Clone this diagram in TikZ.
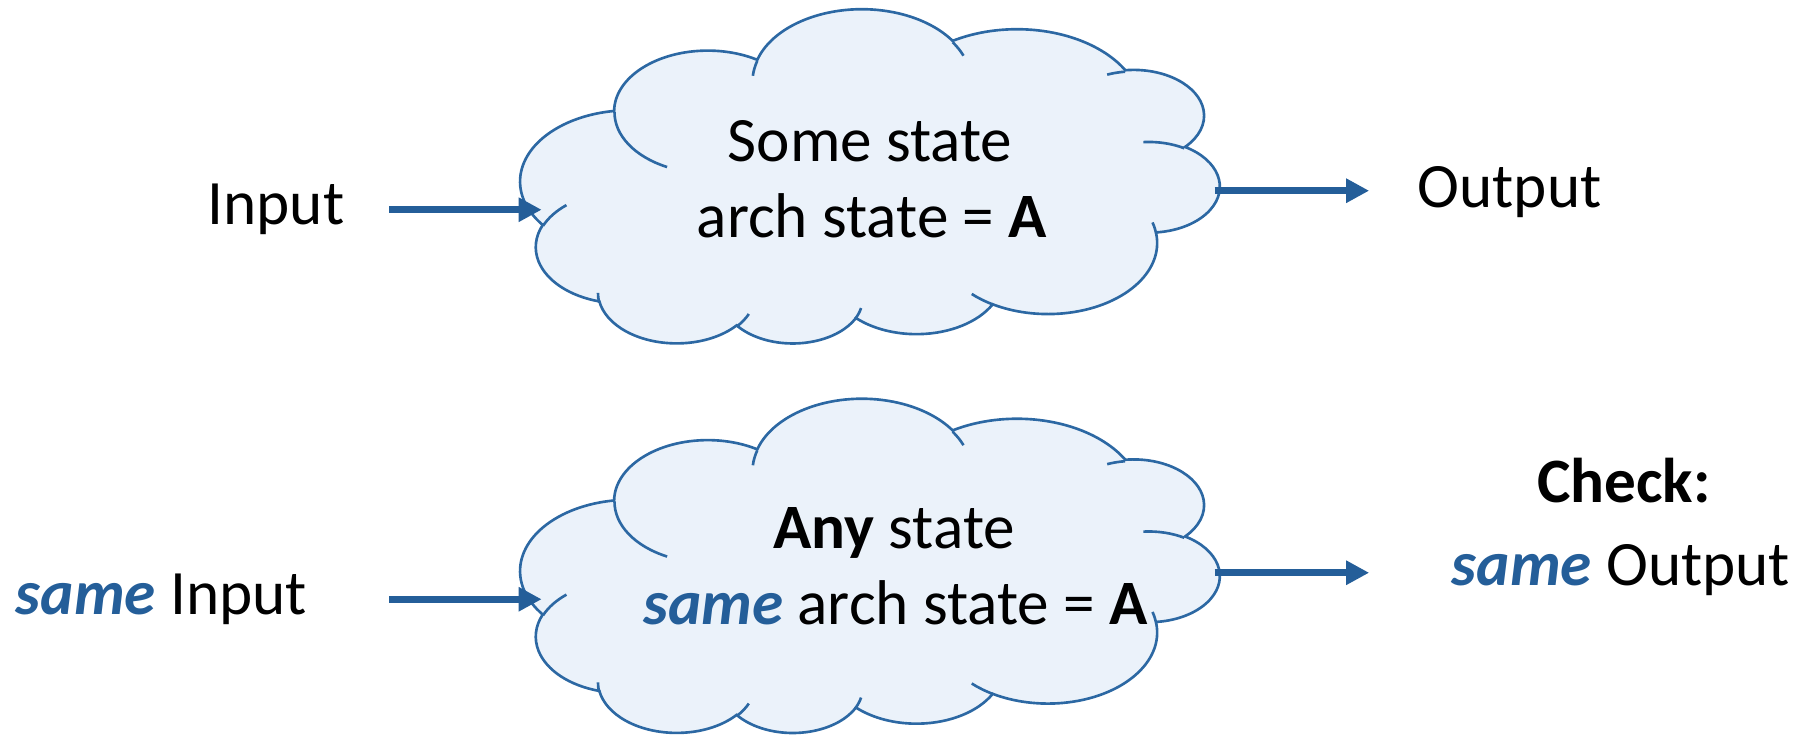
\documentclass[tikz,border=0pt]{standalone}
\usepackage{fontspec}
\setmainfont{Carlito}
\usetikzlibrary{arrows.meta}

\definecolor{flowblue}{HTML}{245E99}
\definecolor{cloudline}{HTML}{2C68A3}
\definecolor{cloudfill}{HTML}{EBF2FA}

% Arc of the cloud outline: start angle and sweep are given as visual
% angles on an ellipse with radii wR, hR (shape units of 1/1000);
% they are turned into the parametric angles TikZ uses.
\newcommand\ooarc[5]{%
  \pgfmathsetmacro\ooA{#4}%
  \pgfmathsetmacro\ooB{#4+#5}%
  \pgfmathsetmacro\ooTA{\ooA+mod(atan2(#2*sin(\ooA),#3*cos(\ooA))-\ooA+900,360)-180}%
  \pgfmathsetmacro\ooTB{\ooB+mod(atan2(#2*sin(\ooB),#3*cos(\ooB))-\ooB+900,360)-180}%
  \pgfmathsetmacro\ooRX{#2/1000}%
  \pgfmathsetmacro\ooRY{#3/1000}%
  \expandafter\xdef\csname ck#1\endcsname{arc[start angle=\ooTA, end angle=\ooTB, x radius=\ooRX, y radius=\ooRY]}%
}
% outline
\ooarc{A}{6753}{9190}{-190.48748}{123.78053}
\ooarc{B}{5333}{7267}{-144.10238}{89.94523}
\ooarc{C}{4365}{5945}{-145.80792}{99.72302}
\ooarc{D}{4857}{6595}{-130.98607}{117.24173}
\ooarc{E}{5333}{7273}{-78.70888}{109.02692}
\ooarc{F}{6775}{9220}{-46.26725}{130.269}
\ooarc{G}{5785}{7867}{0.62502}{114.03333}
\ooarc{H}{6752}{9215}{22.4516}{115.17255}
\ooarc{I}{7720}{10543}{66.24263}{75.71102}
\ooarc{J}{4360}{5918}{-274.94208}{146.73557}
\ooarc{K}{4345}{5945}{-246.8285}{152.51885}
% inner folds
\ooarc{a}{4345}{5945}{86.742}{26.4295}
\ooarc{b}{4360}{5918}{73.6105}{11.4475}
\ooarc{c}{6752}{9215}{137.6242}{14.0811}
\ooarc{d}{6752}{9215}{6.4533}{15.9984}
\ooarc{e}{5785}{7867}{-70.2924}{70.9174}
\ooarc{f}{5333}{7273}{30.3180}{27.7515}
\ooarc{g}{4857}{6595}{-13.7443}{14.8589}
\ooarc{h}{4857}{6595}{-149.1815}{18.1954}
\ooarc{i}{4365}{5945}{-163.4943}{17.6864}
\ooarc{j}{6753}{9190}{-66.7070}{12.3194}
\ooarc{k}{6753}{9190}{157.6544}{11.8582}

\tikzset{
  txt/.style={font=\fontsize{15.6pt}{18.8pt}\selectfont, inner sep=0pt, anchor=base},
  arr/.style={draw=flowblue, line width=0.06cm, -{Triangle[length=0.2cm,width=0.2cm]}},
  cloudedge/.style={draw=cloudline, line width=0.65pt},
  % 43.2 x 43.2 cloud box, turned half round about its lower right corner
  cloudbox/.style={shift={(#1)}, rotate=180, x=0.14030cm, y=-0.06708cm},
}

% cloud outline with its folds; #1 = lower right corner of the box
\newcommand\statecloud[1]{%
  \begin{scope}[cloudbox={#1}]
    \path[cloudedge, fill=cloudfill] (3.9,14.37) \ckA \ckB \ckC \ckD \ckE \ckF \ckG \ckH \ckI \ckJ \ckK -- cycle;
    \draw[cloudedge] (4.693,26.177) \cka;
    \draw[cloudedge] (6.928,34.899) \ckb;
    \draw[cloudedge] (16.478,39.09) \ckc;
    \draw[cloudedge] (28.827,34.751) \ckd;
    \draw[cloudedge] (34.129,22.954) \cke;
    \draw[cloudedge] (41.798,15.354) \ckf;
    \draw[cloudedge] (38.324,5.426) \ckg;
    \draw[cloudedge] (29.078,3.952) \ckh;
    \draw[cloudedge] (22.141,4.72) \cki;
    \draw[cloudedge] (14.0,5.192) \ckj;
    \draw[cloudedge] (4.127,15.789) \ckk;
  \end{scope}%
}

\begin{document}
\begin{tikzpicture}[x=0.01cm, y=-0.01cm]
  \useasboundingbox (0,0) rectangle (1568,640);

  % ---- upper row ----
  \statecloud{1058,299.0}
  \node[txt] (stA1) at (755,140) {Some state};
  \node[txt] (stA2) at (756.5,206) {arch state = \textbf{A}};
  \node[txt] (inA) at (239.5,195) {Input};
  \node[txt] (outA) at (1310,180) {Output};
  \coordinate (cloudAin) at (470,182);
  \coordinate (cloudAout) at (1054,165.5);
  \draw[arr] ([xshift=-1.32cm]cloudAin) -- (cloudAin);
  \draw[arr] (cloudAout) -- ([xshift=1.34cm]cloudAout);

  % ---- lower row ----
  \statecloud{1058,637.0}
  \node[txt] (stB1) at (776,476) {\textbf{Any} state};
  \node[txt] (stB2) at (777,542) {\textcolor{flowblue}{\textbf{\textit{same}}} arch state = \textbf{A}};
  \node[txt] (inB) at (140,533) {\textcolor{flowblue}{\textbf{\textit{same}}} Input};
  \node[txt] (chkB) at (1409,436) {\textbf{Check:}};
  \node[txt] (outB) at (1406.5,508) {\textcolor{flowblue}{\textbf{\textit{same}}} Output};
  \coordinate (cloudBin) at (470,520);
  \coordinate (cloudBout) at (1054,497);
  \draw[arr] ([xshift=-1.32cm]cloudBin) -- (cloudBin);
  \draw[arr] (cloudBout) -- ([xshift=1.34cm]cloudBout);
\end{tikzpicture}
\end{document}
